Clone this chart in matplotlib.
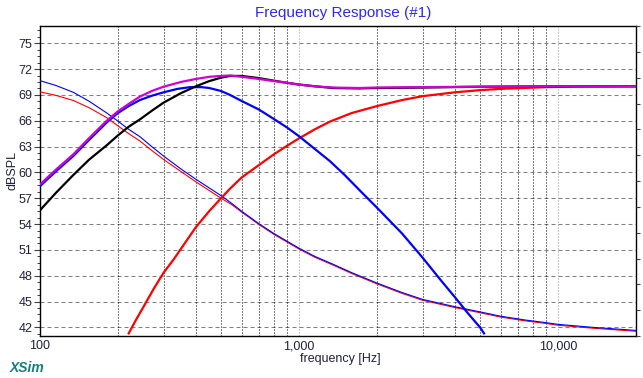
import matplotlib
matplotlib.use("Agg")
import matplotlib.pyplot as plt
from matplotlib.ticker import MultipleLocator, NullLocator, FixedLocator

plt.rcParams['font.family'] = ['Liberation Sans', 'DejaVu Sans']
plt.rcParams['lines.scale_dashes'] = False

# ---- data ----
mag_f = [100, 115, 134.5, 155, 181, 200, 220, 243, 270, 300, 350, 400, 450, 500, 541, 600, 700, 800, 900, 1000, 1150, 1350, 1700, 2000, 3000, 5000, 10000, 20000]
mag_db = [58.6, 60.3, 62.1, 64.0, 66.0, 67.1, 67.95, 68.8, 69.45, 69.95, 70.5, 70.85, 71.1, 71.2, 71.25, 71.1, 70.85, 70.6, 70.4, 70.2, 70.0, 69.85, 69.8, 69.85, 69.9, 69.95, 70.0, 70.0]

blk_f = [100, 115, 134.5, 155, 181, 200, 220, 243, 270, 300, 350, 400, 450, 500, 541, 600, 700, 800, 900, 1000, 1150, 1350, 1700, 2000, 3000, 5000, 10000, 20000]
blk_db = [55.6, 57.6, 59.7, 61.5, 63.15, 64.3, 65.3, 66.15, 67.15, 68.1, 69.2, 70.0, 70.6, 71.0, 71.2, 71.2, 70.95, 70.65, 70.4, 70.2, 70.0, 69.8, 69.75, 69.8, 69.85, 69.95, 70.0, 70.0]

wf_f = [100, 115, 134.5, 155, 181, 200, 220, 243, 270, 300, 340, 380, 420, 450, 500, 541, 600, 700, 800, 900, 1000, 1317, 1500, 1770, 2000, 2500, 3000, 3500, 4000, 4500, 5000, 5180]
wf_db = [58.4, 60.1, 61.9, 63.8, 65.8, 66.9, 67.7, 68.4, 68.9, 69.3, 69.7, 69.9, 69.9, 69.8, 69.45, 69.0, 68.3, 67.3, 66.2, 65.2, 64.2, 61.3, 59.7, 57.5, 55.9, 52.9, 50.1, 47.6, 45.5, 43.6, 42.0, 41.3]

tw_f = [220, 235, 251, 275, 300, 330, 357, 400, 450, 500, 541, 600, 700, 800, 900, 1000, 1150, 1317, 1600, 2000, 2500, 3000, 4000, 5000, 6000, 9000, 12000, 20000]
tw_db = [41.3, 42.9, 44.4, 46.5, 48.35, 50.0, 51.5, 53.65, 55.5, 57.0, 58.1, 59.4, 60.85, 62.1, 63.1, 63.95, 65.0, 65.9, 66.9, 67.7, 68.4, 68.85, 69.3, 69.55, 69.7, 69.9, 69.97, 70.0]

thin_f = [100, 115, 134.5, 155, 181, 200, 220, 243, 270, 300, 350, 400, 450, 500, 550, 600, 700, 800, 900, 1000, 1150, 1350, 1600, 2000, 2500, 3000, 4000, 5000, 6000, 7500, 9000, 10000, 13700, 20000]
thin_blue_db = [70.65, 70.1, 69.3, 68.25, 66.9, 65.95, 65.0, 64.15, 63.0, 61.9, 60.4, 59.2, 58.2, 57.3, 56.4, 55.5, 54.05, 52.9, 52.0, 51.2, 50.25, 49.35, 48.35, 47.15, 46.05, 45.25, 44.4, 43.8, 43.3, 42.85, 42.55, 42.35, 42.0, 41.65]
thin_red_db = [69.35, 68.95, 68.35, 67.5, 66.35, 65.4, 64.5, 63.65, 62.55, 61.5, 60.1, 58.9, 57.9, 57.0, 56.25, 55.4, 53.95, 52.8, 51.9, 51.1, 50.15, 49.25, 48.25, 47.05, 45.95, 45.15, 44.3, 43.7, 43.2, 42.75, 42.45, 42.25, 41.9, 41.55]

y_ticks = [42, 45, 48, 51, 54, 57, 60, 63, 66, 69, 72, 75]
x_ticks = [100, 1000, 10000]
x_tick_labels = ["100", "1,000", "10,000"]
grid_black = [200, 300, 400, 500, 600, 700, 800, 900, 2000, 3000, 4000, 5000, 6000, 7000, 8000, 9000]
grid_gray = [1000, 10000]
right_ticks = list(range(13))
right_labels = ["1", "1", "1", "9", "9", "9", "9", "-", "-", "-", "-", "-", "-"]
right_colors = ["#a02020", "#a02020", "#a02020", "#303070", "#303070", "#303070", "#303070",
                "#303030", "#303030", "#303030", "#303030", "#303030", "#303030"]

W, H = 643, 378
fig = plt.figure(figsize=(W / 100, H / 100), dpi=100)
fig.patch.set_facecolor("white")
ax = fig.add_axes([40 / W, (H - 336) / H, (636 - 40) / W, (336 - 26) / H])
ax.set_xscale("log")
ax.set_xlim(100, 20000)
ax.set_ylim(41, 77)

px = 0.72
for v in y_ticks:
    ax.axhline(v, color="#808080", lw=0.75, dashes=(4 * px, 3 * px), zorder=1, snap=True)
for v in grid_black:
    ax.axvline(v, color="black", lw=0.75, dashes=(1 * px, 2 * px), zorder=1, snap=True)
for v in grid_gray:
    ax.axvline(v, color="#909090", lw=0.75, dashes=(1 * px, 2 * px), zorder=1, snap=True)

ax.plot(thin_f, thin_red_db, color="#ff0000", lw=0.8, zorder=3)
ax.plot(thin_f, thin_blue_db, color="#0000ff", lw=0.8, zorder=3)
ax.plot(tw_f, tw_db, color="#ff0000", lw=1.6, zorder=4)
ax.plot(wf_f, wf_db, color="#0000ff", lw=1.6, zorder=4)
ax.plot(blk_f, blk_db, color="black", lw=1.6, zorder=5)
ax.plot(mag_f, mag_db, color="#d000d0", lw=1.6, zorder=6)

for s in ax.spines.values():
    s.set_linewidth(1.0)
    s.set_color("black")

ax.xaxis.set_major_locator(FixedLocator(x_ticks))
ax.set_xticklabels(x_tick_labels)
ax.xaxis.set_minor_locator(NullLocator())
ax.tick_params(axis="x", which="both", length=0, pad=3, labelsize=9, labelcolor="#202040")

ax.yaxis.set_major_locator(FixedLocator(y_ticks))
ax.yaxis.set_minor_locator(MultipleLocator(0.75))
ax.tick_params(axis="y", which="major", direction="out", length=4, width=0.8, pad=1.5,
               labelsize=9, labelcolor="#202040", color="#404040")
ax.tick_params(axis="y", which="minor", direction="out", length=2, width=0.7, color="#404040")

ax2 = ax.twinx()
ax2.set_ylim(12, 0)
ax2.yaxis.set_major_locator(FixedLocator(right_ticks))
ax2.set_yticklabels(right_labels)
for t, c in zip(ax2.get_yticklabels(), right_colors):
    t.set_color(c)
ax2.yaxis.set_minor_locator(NullLocator())
ax2.tick_params(axis="y", direction="out", length=3, width=0.8, pad=1.5, labelsize=8, color="#404040")
for s in ax2.spines.values():
    s.set_visible(False)

fig.text(343 / W, 1 - 12.5 / H, "Frequency Response (#1)", color="#2a2af0", fontsize=11,
         ha="center", va="center")
fig.text(340 / W, 1 - 359 / H, "frequency [Hz]", color="#202040", fontsize=9, ha="center", va="center")
fig.text(12 / W, 1 - 170 / H, "dBSPL", color="#202040", fontsize=9, ha="center", va="center", rotation=90)
fig.text(10 / W, 1 - 368 / H, "XSim", color="#108080", fontsize=10, fontweight="bold",
         fontstyle="italic", ha="left", va="center")

fig.savefig("out.png", dpi=100, facecolor="white")
